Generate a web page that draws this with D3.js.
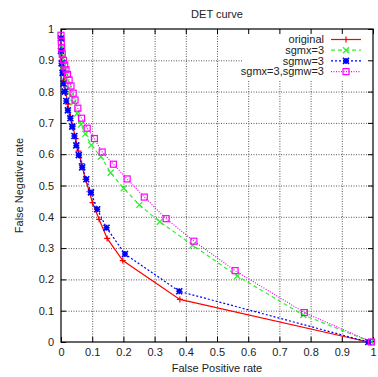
<!DOCTYPE html>
<html>
<head>
<meta charset="utf-8">
<script src="https://cdn.jsdelivr.net/npm/d3@7"></script>
<style>
  body { margin: 0; background: #fff; }
  svg text { font-family: "Liberation Sans", Helvetica, Arial, sans-serif; }
</style>
</head>
<body>
<svg id="chart" width="378" height="377"></svg>
<script>
// DET curve data: [false positive rate, false negative rate]
const original = [[0.001,0.965],[0.003,0.91],[0.006,0.87],[0.01,0.835],[0.015,0.8],[0.022,0.76],[0.03,0.72],[0.038,0.69],[0.047,0.65],[0.056,0.61],[0.066,0.57],[0.078,0.52],[0.091,0.48],[0.101,0.445],[0.122,0.392],[0.148,0.331],[0.198,0.26],[0.381,0.136],[0.985,0]];
const sgmx = [[0,0.97],[0.002,0.94],[0.004,0.91],[0.008,0.88],[0.013,0.86],[0.018,0.84],[0.024,0.81],[0.031,0.787],[0.04,0.765],[0.052,0.73],[0.064,0.695],[0.078,0.665],[0.097,0.629],[0.128,0.592],[0.159,0.541],[0.201,0.491],[0.251,0.438],[0.317,0.384],[0.422,0.309],[0.565,0.211],[0.777,0.086],[0.995,0]];
const sgmw = [[0,0.97],[0,0.93],[0.002,0.89],[0.005,0.86],[0.008,0.826],[0.012,0.8],[0.017,0.77],[0.022,0.74],[0.03,0.715],[0.036,0.688],[0.043,0.658],[0.049,0.628],[0.057,0.597],[0.068,0.558],[0.081,0.52],[0.096,0.478],[0.116,0.424],[0.146,0.365],[0.205,0.281],[0.379,0.162],[0.985,0]];
const sgmxw = [[0,0.98],[0.001,0.96],[0.002,0.94],[0.004,0.92],[0.008,0.9],[0.012,0.885],[0.016,0.87],[0.021,0.855],[0.026,0.837],[0.032,0.818],[0.039,0.795],[0.045,0.773],[0.054,0.747],[0.066,0.715],[0.084,0.683],[0.107,0.65],[0.132,0.607],[0.168,0.568],[0.212,0.521],[0.267,0.463],[0.337,0.394],[0.426,0.322],[0.558,0.228],[0.78,0.094],[0.995,0]];

const seriesNames = ["original", "sgmx=3", "sgmw=3", "sgmx=3,sgmw=3"];
const tickValues = [0, 0.1, 0.2, 0.3, 0.4, 0.5, 0.6, 0.7, 0.8, 0.9, 1];

const series = [
  { name: seriesNames[0], data: original, color: "#ff0000", dash: null, marker: "plus" },
  { name: seriesNames[1], data: sgmx, color: "#33ee33", dash: "4,3", marker: "cross" },
  { name: seriesNames[2], data: sgmw, color: "#0000ff", dash: "2,2", marker: "star" },
  { name: seriesNames[3], data: sgmxw, color: "#ff00ff", dash: "1,1.5", marker: "square" }
];

const svg = d3.select("#chart");
const mLeft = 61, mRight = 373, mTop = 29, mBottom = 342;
const width = mRight - mLeft, height = mBottom - mTop;

const x = d3.scaleLinear().domain([0, 1]).range([0, width]);
const y = d3.scaleLinear().domain([0, 1]).range([height, 0]);

const g = svg.append("g").attr("transform", `translate(${mLeft},${mTop})`);

// grid
const inner = tickValues.slice(1, -1);
g.append("g")
  .attr("transform", `translate(0,${height})`)
  .call(d3.axisBottom(x).tickValues(inner).tickSize(-height).tickFormat(""))
  .call(a => a.select(".domain").remove())
  .selectAll("line").attr("class", "grid").attr("stroke", "#555").attr("stroke-dasharray", "1,1.5");
g.append("g")
  .call(d3.axisLeft(y).tickValues(inner).tickSize(-width).tickFormat(""))
  .call(a => a.select(".domain").remove())
  .selectAll("line").attr("class", "grid").attr("stroke", "#555").attr("stroke-dasharray", "1,1.5");

// key background hides grid
g.append("rect").attr("x", 182).attr("y", 1).attr("width", width - 183).attr("height", 50).attr("fill", "#fff");

// axes with inward ticks
g.append("g").attr("transform", `translate(0,${height})`)
  .call(d3.axisBottom(x).tickValues(tickValues).tickSize(-5).tickPadding(6).tickFormat(d3.format("")));
g.append("g")
  .call(d3.axisLeft(y).tickValues(tickValues).tickSize(-5).tickPadding(7).tickFormat(d3.format("")));
g.append("g").call(d3.axisTop(x).tickValues(tickValues).tickSize(-5).tickFormat(""));
g.append("g").attr("transform", `translate(${width},0)`)
  .call(d3.axisRight(y).tickValues(tickValues).tickSize(-5).tickFormat(""));
g.selectAll(".domain").remove();
g.selectAll(".tick text").attr("font-size", 11).attr("fill", "#222")
  .style("font-family", "Liberation Sans, Helvetica, Arial, sans-serif");
g.selectAll(".tick line").filter(function() { return !d3.select(this).attr("stroke-dasharray"); })
  .attr("stroke", "#000");

g.append("rect").attr("width", width).attr("height", height)
  .attr("fill", "none").attr("stroke", "#000").attr("stroke-width", 1.2);

// markers
function drawMarker(sel, type, color) {
  if (type === "plus") {
    sel.append("path").attr("d", "M-3,0H3M0,-3V3").attr("stroke", color).attr("stroke-width", 1.2);
  } else if (type === "cross") {
    sel.append("path").attr("d", "M-3,-3L3,3M-3,3L3,-3").attr("stroke", color).attr("stroke-width", 1.3);
  } else if (type === "star") {
    sel.append("path").attr("d", "M-3,0H3M0,-3V3M-3,-3L3,3M-3,3L3,-3").attr("stroke", color).attr("stroke-width", 1.6);
  } else {
    sel.append("rect").attr("x", -3).attr("y", -3).attr("width", 6).attr("height", 6)
      .attr("fill", "none").attr("stroke", color).attr("stroke-width", 1.2);
  }
}

const line = d3.line().x(d => x(d[0])).y(d => y(d[1]));

series.forEach(s => {
  g.append("path").datum(s.data)
    .attr("d", line).attr("fill", "none")
    .attr("stroke", s.color).attr("stroke-width", 1.2)
    .attr("stroke-dasharray", s.dash);
  g.append("g").selectAll("g").data(s.data).join("g")
    .attr("transform", d => `translate(${x(d[0])},${y(d[1])})`)
    .each(function() { drawMarker(d3.select(this), s.marker, s.color); });
});

// legend
const legend = g.append("g").selectAll("g").data(series).join("g")
  .attr("transform", (d, i) => `translate(0,${10.5 + i * 10.7})`);
legend.append("text").attr("x", 263).attr("dy", "0.35em").attr("text-anchor", "end")
  .attr("font-size", 11).attr("fill", "#222").text(d => d.name);
legend.append("line").attr("x1", 270).attr("x2", 300)
  .attr("stroke", d => d.color).attr("stroke-width", 1.2)
  .attr("stroke-dasharray", d => d.dash);
legend.append("g").attr("transform", "translate(285,0)")
  .each(function(d) { drawMarker(d3.select(this), d.marker, d.color); });

// titles
svg.append("text").attr("x", mLeft + width / 2).attr("y", 18).attr("text-anchor", "middle")
  .attr("font-size", 11).attr("fill", "#222").text("DET curve");
svg.append("text").attr("x", mLeft + width / 2).attr("y", 372).attr("text-anchor", "middle")
  .attr("font-size", 11).attr("fill", "#222").text("False Positive rate");
svg.append("text").attr("transform", `translate(23,${mTop + height / 2}) rotate(-90)`)
  .attr("text-anchor", "middle").attr("font-size", 11).attr("fill", "#222").text("False Negative rate");
</script>
</body>
</html>
